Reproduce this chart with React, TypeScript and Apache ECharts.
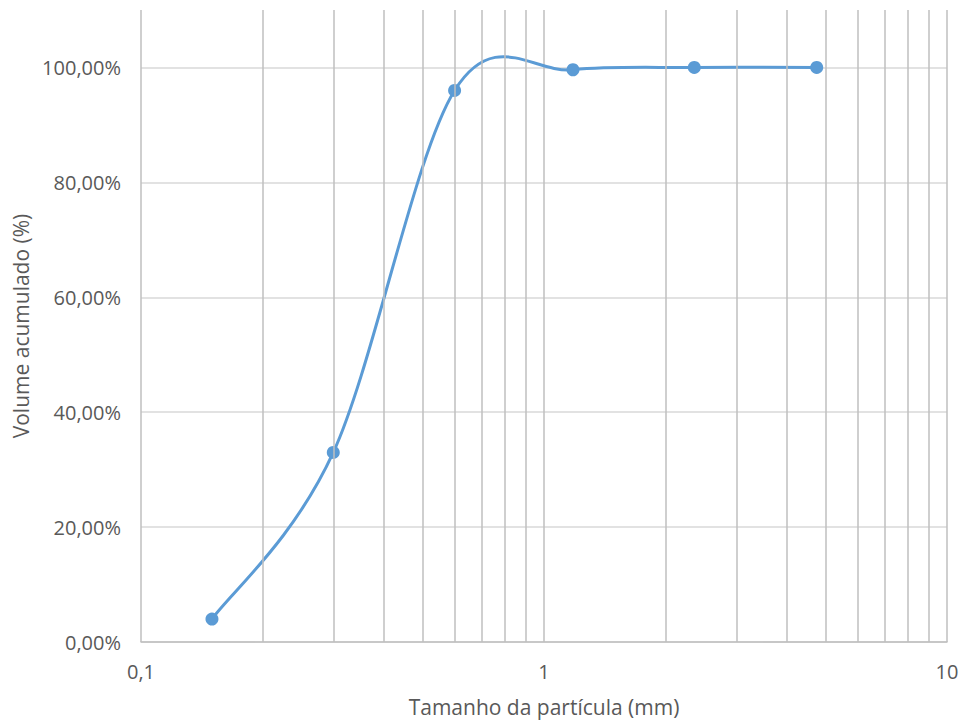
import React, { useEffect, useRef } from "react";
import * as echarts from "echarts";

const sizes = [0.15, 0.3, 0.6, 1.18, 2.36, 4.75];
const volume = [0.04, 0.33, 0.96, 0.996, 1.0, 1.0];
const minorGridX = [0.2, 0.3, 0.4, 0.5, 0.6, 0.7, 0.8, 0.9, 2, 3, 4, 5, 6, 7, 8, 9];
const xTitle = "Tamanho da partícula (mm)";
const yTitle = "Volume acumulado (%)";

const FONT = "'Open Sans', 'Liberation Sans', sans-serif";
const TEXT = "#595959";
const BLUE = "#5B9BD5";

export default function App() {
  const ref = useRef<HTMLDivElement>(null);
  useEffect(() => {
    if (!ref.current) return;
    const chart = echarts.init(ref.current, undefined, { renderer: "svg" });
    const data = sizes.map((s, i) => [s, volume[i]]);

    // Excel-style smoothed curve (Catmull-Rom bezier) through the data points in pixel space
    const renderCurve = (params: any, api: any) => {
      if (params.dataIndex !== 0) return null;
      const pts = data.map((d) => api.coord(d) as number[]);
      const n = pts.length;
      const P = (i: number) => pts[Math.max(0, Math.min(n - 1, i))];
      let d = `M${pts[0][0]},${pts[0][1]}`;
      for (let i = 0; i < n - 1; i++) {
        const p0 = P(i - 1), p1 = P(i), p2 = P(i + 1), p3 = P(i + 2);
        const c1x = p1[0] + (p2[0] - p0[0]) / 6;
        const c1y = p1[1] + (p2[1] - p0[1]) / 6;
        const c2x = p2[0] - (p3[0] - p1[0]) / 6;
        const c2y = p2[1] - (p3[1] - p1[1]) / 6;
        d += ` C${c1x},${c1y} ${c2x},${c2y} ${p2[0]},${p2[1]}`;
      }
      return {
        type: "path",
        shape: { pathData: d },
        style: { fill: "none", stroke: BLUE, lineWidth: 3 },
      };
    };

    chart.setOption({
      animation: false,
      backgroundColor: "#ffffff",
      grid: { left: 141, right: 19, top: 10, bottom: 80 },
      xAxis: {
        type: "log",
        logBase: 10,
        min: 0.1,
        max: 10,
        name: xTitle,
        nameLocation: "middle",
        nameGap: 54,
        nameTextStyle: { color: TEXT, fontFamily: FONT, fontSize: 21 },
        axisLine: { show: true, lineStyle: { color: "#BFBFBF", width: 1.5 } },
        axisTick: { show: false },
        axisLabel: {
          color: TEXT,
          fontFamily: FONT,
          fontSize: 20,
          margin: 19,
          formatter: (v: number) => String(v).replace(".", ","),
        },
        splitLine: { show: true, lineStyle: { color: "#BFBFBF", width: 1.5 } },
      },
      yAxis: {
        type: "value",
        min: 0,
        max: 1.1,
        interval: 0.2,
        name: yTitle,
        nameLocation: "middle",
        nameGap: 108,
        nameTextStyle: { color: TEXT, fontFamily: FONT, fontSize: 21 },
        axisLine: { show: false },
        axisTick: { show: false },
        axisLabel: {
          color: TEXT,
          fontFamily: FONT,
          fontSize: 20,
          margin: 20,
          showMaxLabel: false,
          formatter: (v: number) =>
            v > 1.05 ? "" : (v * 100).toFixed(2).replace(".", ",") + "%",
        },
        splitLine: { show: true, showMaxLine: false, lineStyle: { color: "#D9D9D9", width: 1.5 } },
      },
      series: [
        {
          type: "line",
          data,
          z: 1,
          symbol: "none",
          silent: true,
          lineStyle: { opacity: 0 },
          markLine: {
            silent: true,
            symbol: ["none", "none"],
            label: { show: false },
            lineStyle: { color: "#BFBFBF", width: 1.5, type: "solid" },
            data: minorGridX.map((x) => ({ xAxis: x })),
          },
        },
        {
          type: "custom",
          data,
          z: 2,
          silent: true,
          renderItem: renderCurve,
        },
        {
          type: "line",
          data,
          z: 3,
          symbol: "circle",
          symbolSize: 13,
          itemStyle: { color: BLUE },
          lineStyle: { opacity: 0 },
        },
      ],
    });
    return () => chart.dispose();
  }, []);
  return (
    <div
      ref={ref}
      style={{ position: "fixed", left: 0, top: 0, width: 966, height: 722 }}
    />
  );
}
